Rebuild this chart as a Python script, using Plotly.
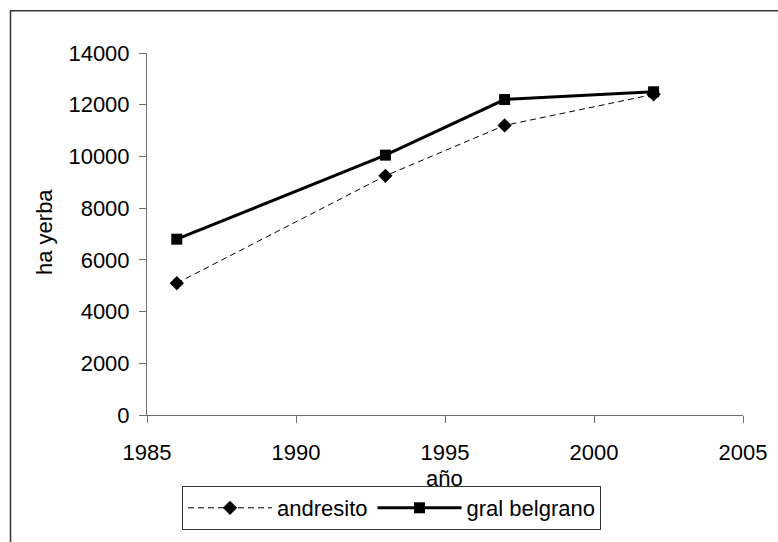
import plotly.graph_objects as go

years = [1986, 1993, 1997, 2002]
andresito = [5100, 9250, 11200, 12400]
gral_belgrano = [6800, 10050, 12200, 12500]

x_ticks = [1985, 1990, 1995, 2000, 2005]
y_ticks = [0, 2000, 4000, 6000, 8000, 10000, 12000, 14000]

FONT = "Liberation Sans, Arial, sans-serif"
FS = 22
W, H = 778, 542
L, R, T, B = 147, 35, 53, 125
PW, PH = W - L - R, H - T - B


def px_x(p):
    return (p - L) / PW


def px_y(p):
    return (H - B - p) / PH


fig = go.Figure()
fig.add_trace(go.Scatter(
    x=years, y=andresito, name="andresito", mode="lines+markers",
    line=dict(color="black", width=1, dash="6px,4px"),
    marker=dict(symbol="diamond", size=11, color="black"),
))
fig.add_trace(go.Scatter(
    x=years, y=gral_belgrano, name="gral belgrano", mode="lines+markers",
    line=dict(color="black", width=3),
    marker=dict(symbol="square", size=11, color="black"),
))

axis_common = dict(
    showgrid=False, zeroline=False, showline=True, linecolor="#6e6e6e",
    linewidth=1, ticks="outside", ticklen=7, tickcolor="#6e6e6e",
    tickformat="d",
    tickfont=dict(family=FONT, size=FS, color="black"),
)

fig.update_xaxes(range=[1985, 2005], tickvals=x_ticks, ticklabelstandoff=11,
                 **axis_common)
fig.update_yaxes(range=[0, 14000], tickvals=y_ticks, ticklabelstandoff=5,
                 **axis_common)

fig.update_layout(
    width=W, height=H,
    margin=dict(l=L, r=R, t=T, b=B),
    paper_bgcolor="white", plot_bgcolor="white",
    font=dict(family=FONT, size=FS, color="black"),
    showlegend=True,
    legend=dict(
        orientation="h", x=px_x(182), y=px_y(510.5),
        xanchor="left", yanchor="middle",
        bordercolor="#333", borderwidth=1, bgcolor="white",
        font=dict(family=FONT, size=FS, color="black"),
        itemwidth=84,
    ),
    annotations=[
        dict(text="ha yerba", x=px_x(44), y=px_y(233), xref="paper", yref="paper",
             xanchor="center", yanchor="middle",
             textangle=-90, showarrow=False, font=dict(size=FS)),
        dict(text="año", x=px_x(444), y=px_y(481), xref="paper", yref="paper",
             xanchor="center", yanchor="middle",
             showarrow=False, font=dict(size=FS)),
    ],
    shapes=[
        dict(type="rect", xref="paper", yref="paper",
             x0=px_x(10.5), x1=px_x(800), y0=px_y(570), y1=px_y(10.5),
             line=dict(color="#333", width=1.5), fillcolor="rgba(0,0,0,0)",
             layer="below"),
    ],
)

fig.write_html("out.html")
